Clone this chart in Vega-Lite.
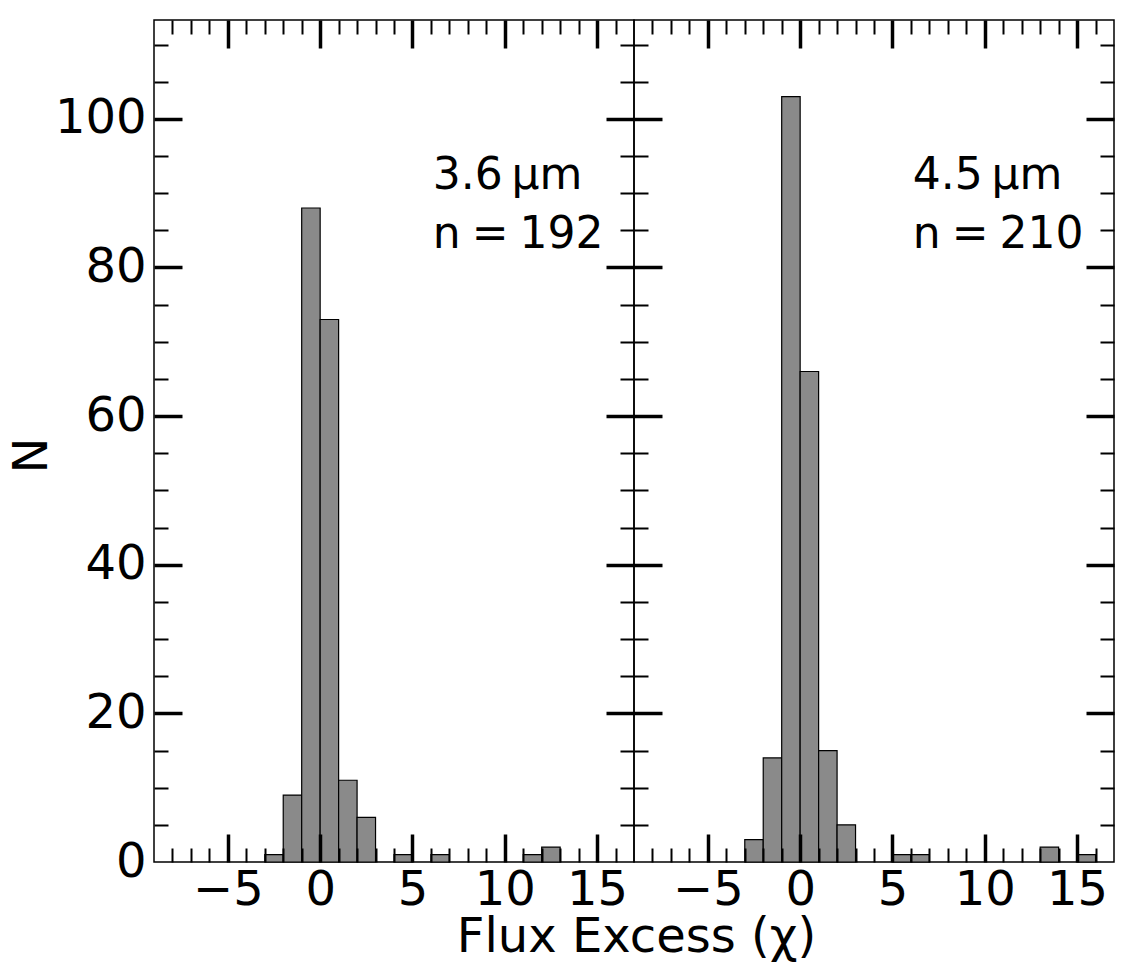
{
  "$schema": "https://vega.github.io/schema/vega-lite/v6.json",
  "background": "white",
  "padding": {"left": 7, "top": 17, "right": 5, "bottom": 0},
  "bounds": "flush",
  "spacing": 0,
  "datasets": {
    "hist": [
      {"panel": "L", "lo": -3, "hi": -2, "count": 1},
      {"panel": "L", "lo": -2, "hi": -1, "count": 9},
      {"panel": "L", "lo": -1, "hi": 0, "count": 88},
      {"panel": "L", "lo": 0, "hi": 1, "count": 73},
      {"panel": "L", "lo": 1, "hi": 2, "count": 11},
      {"panel": "L", "lo": 2, "hi": 3, "count": 6},
      {"panel": "L", "lo": 4, "hi": 5, "count": 1},
      {"panel": "L", "lo": 6, "hi": 7, "count": 1},
      {"panel": "L", "lo": 11, "hi": 12, "count": 1},
      {"panel": "L", "lo": 12, "hi": 13, "count": 2},
      {"panel": "R", "lo": -3, "hi": -2, "count": 3},
      {"panel": "R", "lo": -2, "hi": -1, "count": 14},
      {"panel": "R", "lo": -1, "hi": 0, "count": 103},
      {"panel": "R", "lo": 0, "hi": 1, "count": 66},
      {"panel": "R", "lo": 1, "hi": 2, "count": 15},
      {"panel": "R", "lo": 2, "hi": 3, "count": 5},
      {"panel": "R", "lo": 5, "hi": 6, "count": 1},
      {"panel": "R", "lo": 6, "hi": 7, "count": 1},
      {"panel": "R", "lo": 13, "hi": 14, "count": 2},
      {"panel": "R", "lo": 15, "hi": 16, "count": 1}
    ],
    "notes": [
      {"panel": "L", "x": 6.1, "y": 90.6, "label": "3.6\u2009µm"},
      {"panel": "L", "x": 6.1, "y": 82.6, "label": "n\u2005=\u2005192"},
      {"panel": "R", "x": 6.1, "y": 90.6, "label": "4.5\u2009µm"},
      {"panel": "R", "x": 6.1, "y": 82.6, "label": "n\u2005=\u2005210"}
    ]
  },
  "hconcat": [
    {
      "width": 480,
      "height": 842,
      "layer": [
        {
          "data": {"name": "hist"},
          "transform": [{"filter": "datum.panel === 'L'"}],
          "mark": {"type": "bar", "fill": "#8a8a8a", "stroke": "black", "strokeWidth": 1.2, "opacity": 1},
          "encoding": {
            "x": {"field": "lo", "type": "quantitative", "scale": {"domain": [-9, 17], "nice": false, "zero": false},
              "axis": {"orient": "bottom", "values": [-5, 0, 5, 10, 15], "ticks": false, "domain": false, "grid": false, "labelFontSize": 48, "labelFont": "DejaVu Sans", "labelColor": "black", "labelPadding": 4, "labelFlush": false, "labelOverlap": false,
                "title": "Flux Excess (χ)", "titleFontSize": 48, "titleFont": "DejaVu Sans", "titleFontWeight": "normal", "titleColor": "black", "titleX": 482, "titleY": 89, "titleAlign": "center", "titleBaseline": "alphabetic"}},
            "x2": {"field": "hi"},
            "y": {"field": "count", "type": "quantitative", "scale": {"domain": [0, 113.3], "nice": false},
              "axis": {"orient": "left", "values": [0, 20, 40, 60, 80, 100], "ticks": false, "domain": false, "grid": false, "labelFontSize": 48, "labelFont": "DejaVu Sans", "labelColor": "black", "labelPadding": 8, "labelFlush": false, "labelOverlap": false,
                "title": "N", "titleFontSize": 48, "titleFont": "DejaVu Sans", "titleFontWeight": "normal", "titleColor": "black", "titleX": -108, "titleY": 435, "titleAlign": "center", "titleBaseline": "alphabetic", "titleAngle": 270}},
            "y2": {"datum": 0}
          }
        },
        {
          "data": {"name": "hist"},
          "transform": [{"filter": "datum.panel === 'L'"}],
          "mark": {"type": "bar", "opacity": 0},
          "encoding": {
            "x": {"field": "lo", "type": "quantitative", "scale": {"domain": [-9, 17], "nice": false, "zero": false},
              "axis": {"orient": "bottom", "values": [-5, 0, 5, 10, 15], "labels": false, "domain": false, "grid": false, "tickSize": 28, "tickWidth": 3.5, "tickColor": "black", "offset": -28, "title": null, "zindex": 2}},
            "x2": {"field": "hi"},
            "y": {"field": "count", "type": "quantitative", "scale": {"domain": [0, 113.3], "nice": false},
              "axis": {"orient": "left", "values": [20, 40, 60, 80, 100], "labels": false, "domain": false, "grid": false, "tickSize": 28, "tickWidth": 3.5, "tickColor": "black", "offset": -28, "title": null, "zindex": 2}},
            "y2": {"datum": 0}
          }
        },
        {
          "data": {"name": "hist"},
          "transform": [{"filter": "datum.panel === 'L'"}],
          "mark": {"type": "bar", "opacity": 0},
          "encoding": {
            "x": {"field": "lo", "type": "quantitative", "scale": {"domain": [-9, 17], "nice": false, "zero": false},
              "axis": {"orient": "bottom", "values": [-8, -7, -6, -4, -3, -2, -1, 1, 2, 3, 4, 6, 7, 8, 9, 11, 12, 13, 14, 16], "labels": false, "domain": false, "grid": false, "tickSize": 14, "tickWidth": 2, "tickColor": "black", "offset": -14, "title": null, "zindex": 2}},
            "x2": {"field": "hi"},
            "y": {"field": "count", "type": "quantitative", "scale": {"domain": [0, 113.3], "nice": false},
              "axis": {"orient": "left", "values": [5, 10, 15, 25, 30, 35, 45, 50, 55, 65, 70, 75, 85, 90, 95, 105, 110], "labels": false, "domain": false, "grid": false, "tickSize": 14, "tickWidth": 2, "tickColor": "black", "offset": -14, "title": null, "zindex": 2}},
            "y2": {"datum": 0}
          }
        },
        {
          "data": {"name": "hist"},
          "transform": [{"filter": "datum.panel === 'L'"}],
          "mark": {"type": "bar", "opacity": 0},
          "encoding": {
            "x": {"field": "lo", "type": "quantitative", "scale": {"domain": [-9, 17], "nice": false, "zero": false},
              "axis": {"orient": "top", "values": [-5, 0, 5, 10, 15], "labels": false, "domain": false, "grid": false, "tickSize": 28, "tickWidth": 3.5, "tickColor": "black", "offset": -28, "title": null, "zindex": 2}},
            "x2": {"field": "hi"},
            "y": {"field": "count", "type": "quantitative", "scale": {"domain": [0, 113.3], "nice": false},
              "axis": {"orient": "right", "values": [20, 40, 60, 80, 100], "labels": false, "domain": false, "grid": false, "tickSize": 28, "tickWidth": 3.5, "tickColor": "black", "offset": -28, "title": null, "zindex": 2}},
            "y2": {"datum": 0}
          }
        },
        {
          "data": {"name": "notes"},
          "transform": [{"filter": "datum.panel === 'L'"}],
          "mark": {"type": "text", "align": "left", "baseline": "alphabetic", "fontSize": 44, "font": "DejaVu Sans", "color": "black"},
          "encoding": {
            "x": {"field": "x", "type": "quantitative", "scale": {"domain": [-9, 17], "nice": false, "zero": false},
              "axis": {"orient": "top", "values": [-8, -7, -6, -4, -3, -2, -1, 1, 2, 3, 4, 6, 7, 8, 9, 11, 12, 13, 14, 16], "labels": false, "domain": false, "grid": false, "tickSize": 14, "tickWidth": 2, "tickColor": "black", "offset": -14, "title": null, "zindex": 2}},
            "y": {"field": "y", "type": "quantitative", "scale": {"domain": [0, 113.3], "nice": false},
              "axis": {"orient": "right", "values": [5, 10, 15, 25, 30, 35, 45, 50, 55, 65, 70, 75, 85, 90, 95, 105, 110], "labels": false, "domain": false, "grid": false, "tickSize": 14, "tickWidth": 2, "tickColor": "black", "offset": -14, "title": null, "zindex": 2}},
            "text": {"field": "label"}
          }
        }
      ],
      "resolve": {"axis": {"x": "independent", "y": "independent"}}
    },
    {
      "width": 480,
      "height": 842,
      "layer": [
        {
          "data": {"name": "hist"},
          "transform": [{"filter": "datum.panel === 'R'"}],
          "mark": {"type": "bar", "fill": "#8a8a8a", "stroke": "black", "strokeWidth": 1.2, "opacity": 1},
          "encoding": {
            "x": {"field": "lo", "type": "quantitative", "scale": {"domain": [-9, 17], "nice": false, "zero": false},
              "axis": {"orient": "bottom", "values": [-5, 0, 5, 10, 15], "ticks": false, "domain": false, "grid": false, "labelFontSize": 48, "labelFont": "DejaVu Sans", "labelColor": "black", "labelPadding": 4, "labelFlush": false, "labelOverlap": false, "title": null}},
            "x2": {"field": "hi"},
            "y": {"field": "count", "type": "quantitative", "scale": {"domain": [0, 113.3], "nice": false}, "axis": null},
            "y2": {"datum": 0}
          }
        },
        {
          "data": {"name": "hist"},
          "transform": [{"filter": "datum.panel === 'R'"}],
          "mark": {"type": "bar", "opacity": 0},
          "encoding": {
            "x": {"field": "lo", "type": "quantitative", "scale": {"domain": [-9, 17], "nice": false, "zero": false},
              "axis": {"orient": "bottom", "values": [-5, 0, 5, 10, 15], "labels": false, "domain": false, "grid": false, "tickSize": 28, "tickWidth": 3.5, "tickColor": "black", "offset": -28, "title": null, "zindex": 2}},
            "x2": {"field": "hi"},
            "y": {"field": "count", "type": "quantitative", "scale": {"domain": [0, 113.3], "nice": false},
              "axis": {"orient": "left", "values": [20, 40, 60, 80, 100], "labels": false, "domain": false, "grid": false, "tickSize": 28, "tickWidth": 3.5, "tickColor": "black", "offset": -28, "title": null, "zindex": 2}},
            "y2": {"datum": 0}
          }
        },
        {
          "data": {"name": "hist"},
          "transform": [{"filter": "datum.panel === 'R'"}],
          "mark": {"type": "bar", "opacity": 0},
          "encoding": {
            "x": {"field": "lo", "type": "quantitative", "scale": {"domain": [-9, 17], "nice": false, "zero": false},
              "axis": {"orient": "bottom", "values": [-8, -7, -6, -4, -3, -2, -1, 1, 2, 3, 4, 6, 7, 8, 9, 11, 12, 13, 14, 16], "labels": false, "domain": false, "grid": false, "tickSize": 14, "tickWidth": 2, "tickColor": "black", "offset": -14, "title": null, "zindex": 2}},
            "x2": {"field": "hi"},
            "y": {"field": "count", "type": "quantitative", "scale": {"domain": [0, 113.3], "nice": false},
              "axis": {"orient": "left", "values": [5, 10, 15, 25, 30, 35, 45, 50, 55, 65, 70, 75, 85, 90, 95, 105, 110], "labels": false, "domain": false, "grid": false, "tickSize": 14, "tickWidth": 2, "tickColor": "black", "offset": -14, "title": null, "zindex": 2}},
            "y2": {"datum": 0}
          }
        },
        {
          "data": {"name": "hist"},
          "transform": [{"filter": "datum.panel === 'R'"}],
          "mark": {"type": "bar", "opacity": 0},
          "encoding": {
            "x": {"field": "lo", "type": "quantitative", "scale": {"domain": [-9, 17], "nice": false, "zero": false},
              "axis": {"orient": "top", "values": [-5, 0, 5, 10, 15], "labels": false, "domain": false, "grid": false, "tickSize": 28, "tickWidth": 3.5, "tickColor": "black", "offset": -28, "title": null, "zindex": 2}},
            "x2": {"field": "hi"},
            "y": {"field": "count", "type": "quantitative", "scale": {"domain": [0, 113.3], "nice": false},
              "axis": {"orient": "right", "values": [20, 40, 60, 80, 100], "labels": false, "domain": false, "grid": false, "tickSize": 28, "tickWidth": 3.5, "tickColor": "black", "offset": -28, "title": null, "zindex": 2}},
            "y2": {"datum": 0}
          }
        },
        {
          "data": {"name": "notes"},
          "transform": [{"filter": "datum.panel === 'R'"}],
          "mark": {"type": "text", "align": "left", "baseline": "alphabetic", "fontSize": 44, "font": "DejaVu Sans", "color": "black"},
          "encoding": {
            "x": {"field": "x", "type": "quantitative", "scale": {"domain": [-9, 17], "nice": false, "zero": false},
              "axis": {"orient": "top", "values": [-8, -7, -6, -4, -3, -2, -1, 1, 2, 3, 4, 6, 7, 8, 9, 11, 12, 13, 14, 16], "labels": false, "domain": false, "grid": false, "tickSize": 14, "tickWidth": 2, "tickColor": "black", "offset": -14, "title": null, "zindex": 2}},
            "y": {"field": "y", "type": "quantitative", "scale": {"domain": [0, 113.3], "nice": false},
              "axis": {"orient": "right", "values": [5, 10, 15, 25, 30, 35, 45, 50, 55, 65, 70, 75, 85, 90, 95, 105, 110], "labels": false, "domain": false, "grid": false, "tickSize": 14, "tickWidth": 2, "tickColor": "black", "offset": -14, "title": null, "zindex": 2}},
            "text": {"field": "label"}
          }
        }
      ],
      "resolve": {"axis": {"x": "independent", "y": "independent"}}
    }
  ],
  "config": {
    "view": {"stroke": "black", "strokeWidth": 1.5},
    "scale": {"continuousPadding": 0},
    "font": "DejaVu Sans"
  }
}
